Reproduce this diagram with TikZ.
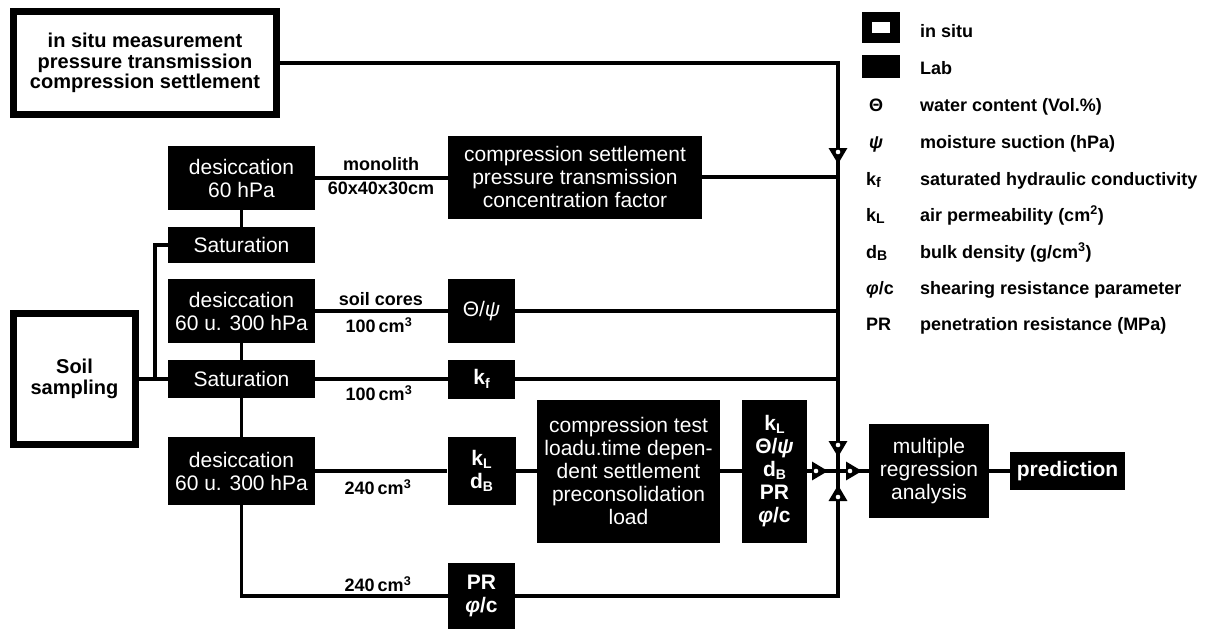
\documentclass[tikz,border=0pt]{standalone}
\usepackage{fontspec}
\setmainfont{Liberation Sans}
\usetikzlibrary{arrows.meta}
\newcommand\bxf{\fontsize{21}{23}\selectfont}
\newcommand\lgf{\fontsize{18}{20.5}\selectfont\bfseries}
\newcommand\isf{\fontsize{20}{20.5}\selectfont\bfseries}
\newcommand\lo[1]{\raisebox{-0.3ex}{\fontsize{14}{14}\selectfont #1}}
\begin{document}
\begin{tikzpicture}[x=1pt,y=-1pt,
 ln/.style={line width=3.3pt},
 lab/.style={fill=black,text=white,inner sep=0pt,align=center,font=\bxf},
 symb/.style={lab,font=\bxf\bfseries},
 frm/.style={draw=black,fill=white,line width=7pt,inner sep=0pt,align=center,font=\isf},
 tri/.style={-{Triangle[length=16pt,width=18pt]}},
 hole/.style={fill=white},
 lbl/.style={font=\lgf,inner sep=0pt},
 lgs/.style={font=\lgf,inner sep=0pt,anchor=base west},
]
\useasboundingbox (0,0) rectangle (1218,629);
% boxes
\node[frm,minimum width=263pt,minimum height=103pt] (insitu) at (145,63) {in situ measurement\\pressure transmission\\compression settlement};
\node[frm,minimum width=122pt,minimum height=131pt] (soil) at (74.5,379) {Soil\\sampling};
\node[lab,minimum width=147pt,minimum height=64pt] (desA) at (241.5,178) {desiccation\\60 hPa};
\node[lab,minimum width=147pt,minimum height=36pt] (satA) at (241.5,245) {Saturation};
\node[lab,minimum width=147pt,minimum height=64pt] (desB) at (241.5,311) {desiccation\\60 u. 300 hPa};
\node[lab,minimum width=147pt,minimum height=38pt] (satB) at (241.5,379) {Saturation};
\node[lab,minimum width=147pt,minimum height=68pt] (desC) at (241.5,471) {desiccation\\60 u. 300 hPa};
\node[lab,minimum width=254pt,minimum height=83pt] (comp) at (575,177) {compression settlement\\pressure transmission\\concentration factor};
\node[lab,minimum width=67pt,minimum height=64pt] (thpsi) at (481.5,311) {Θ/\textit{ψ}};
\node[symb,minimum width=67pt,minimum height=39pt] (kf) at (481.5,379) {k\lo{f}};
\node[symb,minimum width=68pt,minimum height=68pt] (kldb) at (481.5,471) {k\lo{L}\\d\lo{B}};
\node[lab,minimum width=183pt,minimum height=143pt] (ctest) at (628.5,471) {compression test\\loadu.time depen-\\dent settlement\\preconsolidation\\load};
\node[symb,minimum width=65pt,minimum height=143pt] (kbox) at (774.5,471) {k\lo{L}\\Θ/\textit{ψ}\\d\lo{B}\\PR\\\textit{φ}/c};
\node[symb,minimum width=67pt,minimum height=66pt] (pr) at (481.5,596) {PR\\\textit{φ}/c};
\node[lab,minimum width=120pt,minimum height=94pt] (mra) at (929,471) {multiple\\regression\\analysis};
\node[lab,minimum width=115pt,minimum height=38pt,font=\bxf\bfseries] (pred) at (1067.5,471) {prediction};
% coordinates
\coordinate (br) at (155,379);
\coordinate (j) at (838,471);
\coordinate (t1) at (838,164);
\coordinate (jt) at (838,457);
\coordinate (jb) at (838,485);
\coordinate (jl) at (828,471);
\coordinate (jr) at (862,471);
% connectors
\draw[ln] (desA) -- (satA);
\draw[ln] (desB) -- (satB);
\draw[ln] (satB) -- (desC);
\draw[ln] (soil) -- (satB);
\draw[ln] (satA.west) -| (br);
\draw[ln] (desA.east) -- (desA.east -| comp.west);
\draw[ln] (comp.east) -- (comp.east -| j);
\draw[ln] (desB) -- (thpsi);
\draw[ln] (thpsi.east) -- (thpsi.east -| j);
\draw[ln] (satB) -- (kf);
\draw[ln] (kf.east) -- (kf.east -| j);
\draw[ln] (desC) -- (kldb);
\draw[ln] (kldb) -- (ctest);
\draw[ln] (ctest) -- (kbox);
\draw[ln] (desC.south) |- (pr.west);
\draw[ln] (pr.east) -| (j);
\draw[ln] (insitu.east) -| (j);
\draw[ln] (kbox.east) -- (mra.west);
\draw[ln] (mra) -- (pred);
\draw[ln,tri] (insitu.east) -| (t1);
\draw[ln,tri] (t1) -- (jt);
\draw[ln,tri] (pr.east) -| (jb);
\draw[ln,tri] (kbox.east) -- (jl);
\draw[ln,tri] (j) -- (jr);
% small white centres of the arrowheads
\fill[hole] (838,152) circle (2.3pt);
\fill[hole] (838,445) circle (2.3pt);
\fill[hole] (838,497) circle (2.3pt);
\fill[hole] (816,471) circle (2.3pt);
\fill[hole] (850,471) circle (2.3pt);
% connector labels
\node[lbl,anchor=south] (lmono) at (381,171) {monolith};
\node[lbl,anchor=north] (ldim) at (381,182) {60x40x30cm};
\node[lbl,anchor=south] (lcores) at (381,306) {soil cores};
\node[lbl,anchor=north] (lca) at (379,317) {100\,cm\textsuperscript{3}};
\node[lbl,anchor=north] (lcb) at (379,385) {100\,cm\textsuperscript{3}};
\node[lbl,anchor=north] (lcc) at (378,479) {240\,cm\textsuperscript{3}};
\node[lbl,anchor=south] (lcd) at (378,592) {240\,cm\textsuperscript{3}};
% legend
\node[draw,line width=10pt,minimum width=28pt,minimum height=21pt,inner sep=0pt] (li) at (881,27.5) {};
\node[fill=black,minimum width=38pt,minimum height=23pt,inner sep=0pt] (ll) at (881,66.5) {};
\node[lgs] (t1l) at (920,37) {in situ};
\node[lgs] (t2l) at (920,74) {Lab};
\node[lgs] (s3) at (869,111) {Θ};
\node[lgs] (t3l) at (920,111) {water content (Vol.\%)};
\node[lgs] (s4) at (869,148) {\textit{ψ}};
\node[lgs] (t4l) at (920,148) {moisture suction (hPa)};
\node[lgs] (s5) at (866,185) {k\lo{f}};
\node[lgs] (t5l) at (920,185) {saturated hydraulic conductivity};
\node[lgs] (s6) at (866,221) {k\lo{L}};
\node[lgs] (t6l) at (920,221) {air permeability (cm\textsuperscript{2})};
\node[lgs] (s7) at (866,258) {d\lo{B}};
\node[lgs] (t7l) at (920,258) {bulk density (g/cm\textsuperscript{3})};
\node[lgs] (s8) at (866,294) {\textit{φ}/c};
\node[lgs] (t8l) at (920,294) {shearing resistance parameter};
\node[lgs] (s9) at (866,330) {PR};
\node[lgs] (t9l) at (920,330) {penetration resistance (MPa)};
\end{tikzpicture}
\end{document}
